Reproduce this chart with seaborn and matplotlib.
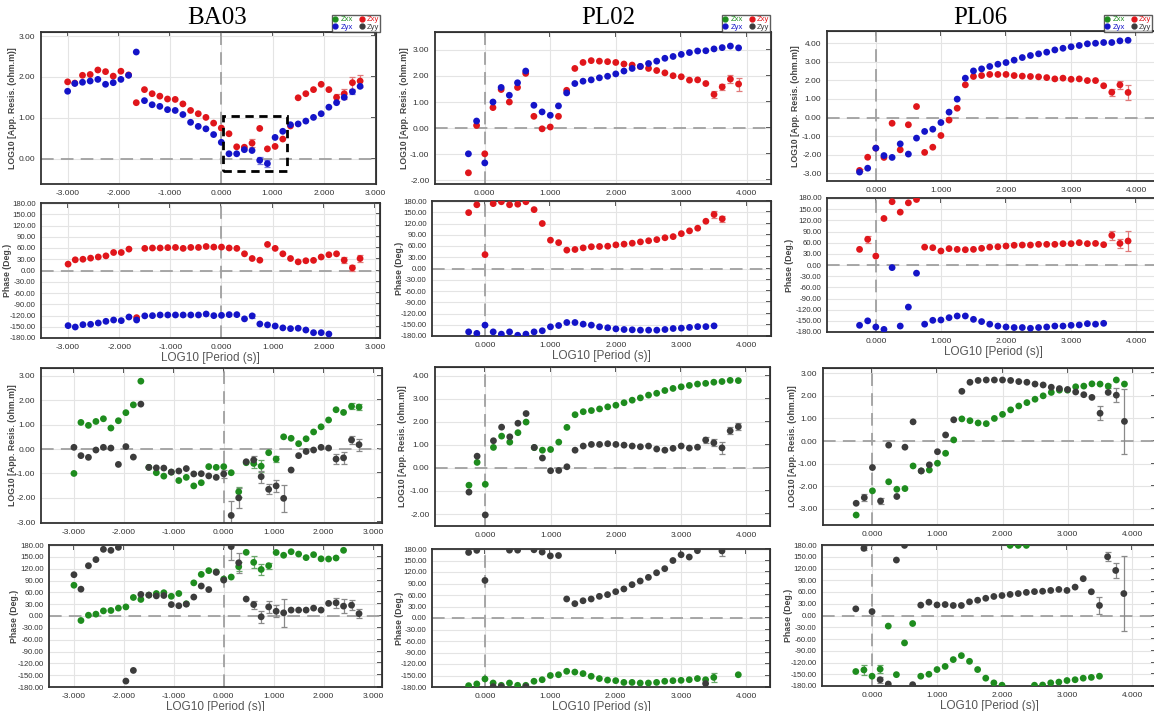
import numpy as np
import pandas as pd
import matplotlib
matplotlib.use('Agg')
import matplotlib.pyplot as plt
import seaborn as sns
from matplotlib.lines import Line2D
from matplotlib.patches import Rectangle
from matplotlib.ticker import FormatStrFormatter

nan = np.nan

# ---------------- data ----------------
stations = ["BA03", "PL02", "PL06"]
components = ["Zxx", "Zyx", "Zxy", "Zyy"]

ba03_period = [-3.00, -2.86, -2.71, -2.56, -2.41, -2.26, -2.11, -1.96, -1.81, -1.66,
               -1.50, -1.35, -1.20, -1.05, -0.90, -0.75, -0.60, -0.45, -0.30, -0.15,
               0.00, 0.15, 0.30, 0.45, 0.60, 0.75, 0.90, 1.05, 1.20, 1.35,
               1.50, 1.65, 1.80, 1.95, 2.10, 2.25, 2.40, 2.56, 2.71]
ba03_rho_xy = [1.88, 1.85, 2.04, 2.06, 2.17, 2.13, 2.02, 2.14, 2.05, 1.37,
               1.69, 1.59, 1.53, 1.46, 1.45, 1.34, 1.18, 1.10, 1.01, 0.87,
               0.75, 0.61, 0.29, 0.28, 0.38, 0.74, 0.24, 0.30, 0.48, 0.80,
               1.49, 1.59, 1.69, 1.82, 1.69, 1.50, 1.59, 1.86, 1.90]
ba03_rho_yx = [1.65, 1.84, 1.87, 1.90, 1.94, 1.82, 1.86, 1.94, 2.04, 2.61,
               1.42, 1.32, 1.28, 1.20, 1.18, 1.08, 0.89, 0.79, 0.73, 0.59,
               0.40, 0.12, 0.12, 0.22, 0.20, -0.04, -0.12, 0.52, 0.67, 0.83,
               0.85, 0.92, 1.01, 1.10, 1.26, 1.37, 1.50, 1.64, 1.77]
ba03_phi_xy = [17, 28.5, 30, 33, 36, 39, 48, 48, 57, -125.7,
               59, 60, 60, 61, 61.5, 59, 61.5, 61.5, 64, 62.5,
               62.5, 60, 59, 44.5, 32, 27.5, 69.5, 59, 44.5, 32,
               23, 26, 27, 36, 42, 44.5, 27.5, 7, 32]
ba03_phi_yx = [-147, -150.7, -144.4, -143.5, -140, -135.5, -132, -133.7, -124, -132,
               -121, -120.4, -118.6, -118.6, -118.6, -118.6, -118.6, -118.6, -116, -120.4,
               -119.5, -117.7, -117.7, -129, -121, -142.6, -145, -148, -153, -155,
               -154, -158.7, -165.8, -165.8, -169.4, nan, nan, nan, nan]
ba03_rho_xx = [-1.00, 1.09, 0.97, 1.13, 1.24, 0.86, 1.16, 1.49, 1.81, 2.78,
               -0.75, -0.97, -1.11, -0.95, -1.29, -1.16, -1.51, -1.38, -0.72, -0.75,
               -0.72, -0.97, -1.75, -0.56, -0.59, -0.70, -0.15, -0.41, 0.50, 0.44,
               0.22, 0.42, 0.70, 0.91, 1.19, 1.61, 1.50, 1.75, 1.72]
ba03_rho_yy = [0.07, -0.27, -0.34, -0.04, 0.07, 0.04, -0.63, 0.10, -0.33, 1.84,
               -0.75, -0.77, -0.78, -0.94, -0.90, -0.80, -1.02, -1.01, -1.10, -1.16,
               -1.02, -2.72, -2.00, -0.52, -0.45, -1.13, -1.65, -1.51, -2.02, -0.86,
               -0.27, -0.10, -0.04, 0.07, 0.04, -0.41, -0.36, 0.37, 0.18]
ba03_phi_xx = [78, -11.4, 2, 4.7, 13, 14, 20, 23, 47, 42,
               53, 57, 59, 50, 57, 31, 84, 105.5, 115, 112,
               93.6, 98.7, 125, 161.4, 136, 118, 127.5, 161, 154, 163,
               157, 148, 155.5, 145, 144.5, 147, 166.5, nan, nan]
ba03_phi_yy = [104.7, 68, 127.5, 143, 169, 166.5, 174, -165, -138, 54.7,
               53, 51, 52, 29, 26, 30, 48, 76, 67, 110.6,
               91, 176, 135, 43, 29, -2, 23, 12, 8, 15,
               15, 15, 20, 15, 32, 33.5, 25, 27.5, 6]
ba03_rho_xy_err = {24: 0.10, 35: 0.08, 36: 0.12, 37: 0.15, 38: 0.15}
ba03_rho_yx_err = {25: 0.08, 26: 0.08, 37: 0.05}
ba03_phi_xy_err = {36: 8, 37: 8, 38: 10}
ba03_phi_yx_err = {24: 5}
ba03_rho_xx_err = {22: 0.2, 24: 0.2, 25: 0.25, 27: 0.12, 37: 0.12, 38: 0.12}
ba03_rho_yy_err = {20: 0.15, 21: 0.6, 22: 0.4, 24: 0.15, 25: 0.25, 26: 0.2, 27: 0.25,
                   28: 0.55, 35: 0.2, 36: 0.25, 37: 0.15, 38: 0.25}
ba03_phi_xx_err = {22: 12, 24: 15, 25: 15, 26: 8}
ba03_phi_yy_err = {21: 35, 22: 25, 24: 10, 25: 15, 26: 15, 27: 15, 28: 35,
                   35: 12, 36: 18, 37: 12, 38: 12}

pl02_period = [-0.25, -0.125, 0.0, 0.125, 0.25, 0.375, 0.5, 0.625, 0.75, 0.875,
               1.0, 1.125, 1.25, 1.375, 1.5, 1.625, 1.75, 1.875, 2.0, 2.125,
               2.25, 2.375, 2.5, 2.625, 2.75, 2.875, 3.0, 3.125, 3.25, 3.375,
               3.5, 3.625, 3.75, 3.875]
pl02_rho_xy = [-1.72, 0.10, -0.99, 0.785, 1.48, 1.00, 1.56, 2.10, 0.45, -0.03,
               0.04, 0.45, 1.45, 2.29, 2.52, 2.59, 2.57, 2.55, 2.52, 2.46,
               2.42, 2.36, 2.29, 2.21, 2.12, 2.01, 1.97, 1.84, 1.85, 1.71,
               1.29, 1.58, 1.88, 1.69]
pl02_rho_yx = [-0.99, 0.27, -1.34, 1.00, 1.56, 1.26, 1.74, 2.19, 0.875, 0.62,
               0.49, 0.85, 1.35, 1.71, 1.80, 1.85, 1.93, 1.99, 2.08, 2.19,
               2.29, 2.37, 2.48, 2.57, 2.68, 2.75, 2.83, 2.90, 2.96, 2.97,
               3.04, 3.09, 3.15, 3.08]
pl02_phi_xy = [149, 170, 37, 173, 178, 170, 171.5, 178, 157, 120,
               75.5, 69, 49, 50.7, 55, 58, 58.7, 59.5, 63, 65,
               67.5, 71, 74, 77, 82, 85, 93, 100.4, 107.5, 126,
               144, 132.4, nan, nan]
pl02_phi_yx = [-169, -173, -151, -169, -175, -169, -178, -175, -169, -166,
               -155.5, -152, -144, -144, -148.4, -151, -155.5, -158, -161, -162.7,
               -163.5, -164.4, -164.4, -164.4, -162.7, -160, -159, -157, -155, -155,
               -153, nan, nan, nan]
pl02_rho_xx = [-0.75, 0.24, -0.71, 0.89, 1.38, 1.12, 1.53, 1.99, 0.88, 0.77,
               0.80, 1.12, 1.76, 2.31, 2.44, 2.49, 2.56, 2.65, 2.72, 2.83,
               2.94, 3.04, 3.16, 3.24, 3.36, 3.45, 3.52, 3.58, 3.64, 3.67,
               3.72, 3.75, 3.80, 3.79]
pl02_rho_yy = [-1.05, 0.51, -2.04, 1.18, 1.77, 1.35, 1.94, 2.36, 0.89, 0.43,
               -0.12, -0.11, 0.05, 0.77, 0.95, 1.02, 1.02, 1.05, 1.02, 0.99,
               0.95, 0.92, 0.95, 0.82, 0.77, 0.85, 0.95, 0.86, 0.90, 1.21,
               1.09, 0.87, 1.61, 1.79]
pl02_phi_xx = [-176.5, -172, -159, -169.6, -175.6, -169.6, -175.6, -175.6, -165, -161,
               -150, -148, -139, -141, -145, -152, -158, -162, -163.5, -168,
               -168, -169.6, -169.6, -168, -165, -163.5, -162.6, -161, -158, -161,
               -155, nan, nan, -148]
pl02_phi_yy = [171, 176.5, 98, -179, -179, 177, 177, -179, 178, 172,
               162, 163, 49.6, 37.4, 45, 49.6, 56.5, 61, 68.7, 75.7,
               87, 96.5, 106, 118, 128.7, 150, 165, 159, 175.6, -171,
               nan, 175, nan, nan]
pl02_rho_xy_err = {30: 0.12, 31: 0.12, 32: 0.15, 33: 0.25}
pl02_rho_yx_err = {}
pl02_phi_xy_err = {30: 10, 31: 8}
pl02_phi_yx_err = {}
pl02_rho_xx_err = {}
pl02_rho_yy_err = {29: 0.12, 30: 0.15, 31: 0.25, 32: 0.15, 33: 0.15}
pl02_phi_xx_err = {30: 12}
pl02_phi_yy_err = {31: 12}

pl06_period = [-0.25, -0.125, 0.0, 0.125, 0.25, 0.375, 0.5, 0.625, 0.75, 0.875,
               1.0, 1.125, 1.25, 1.375, 1.5, 1.625, 1.75, 1.875, 2.0, 2.125,
               2.25, 2.375, 2.5, 2.625, 2.75, 2.875, 3.0, 3.125, 3.25, 3.375,
               3.5, 3.625, 3.75, 3.875]
pl06_rho_xy = [-2.85, -2.14, -1.65, -2.15, -0.31, -1.74, -0.39, 0.59, -1.88, -1.60,
               -0.97, -0.14, 0.50, 1.76, 2.21, 2.26, 2.32, 2.32, 2.32, 2.26,
               2.23, 2.21, 2.19, 2.15, 2.08, 2.12, 2.06, 2.08, 1.99, 1.99,
               1.71, 1.36, 1.76, 1.35]
pl06_rho_yx = [-2.94, -2.73, -1.65, -2.05, -2.15, -1.42, -1.97, -1.11, -0.75, -0.63,
               -0.27, 0.29, 0.99, 2.12, 2.51, 2.62, 2.75, 2.87, 2.96, 3.09,
               3.23, 3.34, 3.43, 3.52, 3.64, 3.73, 3.81, 3.88, 3.97, 4.00,
               4.04, 4.04, 4.13, 4.16]
pl06_phi_xy = [42, 69, 24, 125, 170, 142, 167, 176, 48, 46.5,
               37.6, 44, 42, 41, 42, 44.8, 48, 49, 51, 53,
               53.7, 53.7, 55.5, 55.5, 55.5, 57.3, 57.3, 60, 57.3, 58,
               54.6, 79.7, 58, 64.5]
pl06_phi_yx = [-162, -150, -166.5, -173, -7, -164, -113, -22, -159, -148.6,
               -147.7, -141.5, -137, -137, -146, -152, -159, -164, -166.5, -168,
               -168, -170, -168, -166.5, -164, -164, -162, -161, -157.6, -159,
               -156.7, nan, nan, nan]
pl06_rho_xx = [-3.27, nan, -2.20, nan, -1.80, -2.13, -2.10, -1.10, -1.32, -1.28,
               -0.98, -0.54, 0.05, 0.98, 0.90, 0.80, 0.77, 1.00, 1.18, 1.38,
               1.55, 1.70, 1.85, 2.00, 2.15, 2.25, 2.25, 2.40, 2.43, 2.53,
               2.52, 2.43, 2.70, 2.52]
pl06_rho_yy = [-2.75, -2.50, -1.17, -2.65, -0.18, -2.45, -0.27, 0.85, -1.32, -1.05,
               -0.47, 0.27, 0.94, 2.20, 2.60, 2.68, 2.70, 2.70, 2.70, 2.68,
               2.63, 2.60, 2.52, 2.48, 2.38, 2.32, 2.28, 2.17, 2.05, 1.93,
               1.23, 2.15, 2.03, 0.87]
pl06_phi_xx = [-143, -139, -155, -137, -27, -151, -70, -20.5, -155, -150,
               -138, -130, -112.6, -102.4, -117, -138, -160, -172, -178, 179,
               179, 179, -178, -177.5, -172, -170, -166, -164, -160, -158,
               -155, nan, nan, nan]
pl06_phi_yy = [17, 171.5, 10, -164, -175, 141.6, 179, -176.6, 26.5, 34,
               27, 28, 25.6, 25.6, 35, 39, 44, 48.6, 51, 53.8,
               56, 59, 61, 62, 64, 66.5, 64, 72.5, 94, 60.6,
               25.6, 150, 115, 56]
pl06_rho_xy_err = {0: 0.05, 31: 0.2, 32: 0.2, 33: 0.4}
pl06_rho_yx_err = {}
pl06_phi_xy_err = {1: 10, 31: 12, 32: 12, 33: 28}
pl06_phi_yx_err = {}
pl06_rho_xx_err = {31: 0.1}
pl06_rho_yy_err = {1: 0.15, 3: 0.15, 30: 0.3, 32: 0.3, 33: 1.45}
pl06_phi_xx_err = {1: 12, 3: 10}
pl06_phi_yy_err = {1: 5, 3: 8, 30: 22, 31: 12, 32: 20, 33: 95}

# ---------------- style ----------------
c_xx, c_xy, c_yx, c_yy = "#1e8c1e", "#e0161b", "#1414c8", "#3c3c3c"
e_xx, e_xy, e_yx, e_yy = "#6aa86a", "#e07a7a", "#7a7ae0", "#8a8a8a"

sns.set_style("white")
plt.rcParams['font.family'] = ['Liberation Sans', 'DejaVu Sans']
plt.rcParams['axes.unicode_minus'] = False

W, H = 1154, 711
fig = plt.figure(figsize=(W / 100, H / 100), dpi=100)


def add_ax(l, t, r, b):
    return fig.add_axes([l / W, 1 - b / H, (r - l) / W, (b - t) / H])


def draw_panel(pos, period, series, xlim, ylim, xticks, yticks, kind, ylab_px):
    ax = add_ax(*pos)
    ax.set_facecolor('white')
    x = np.asarray(period, dtype=float)
    for y, err, col, ecol in series:
        y = np.asarray(y, dtype=float)
        if err:
            idx = np.array(sorted(err.keys()))
            ax.errorbar(x[idx], y[idx], yerr=[err[i] for i in idx], fmt='none',
                        ecolor=ecol, elinewidth=0.9, capsize=2.2, capthick=0.9, zorder=2)
        df = pd.DataFrame({"period": x, "value": y}).dropna()
        sns.scatterplot(data=df, x="period", y="value", ax=ax, color=col, s=24,
                        edgecolor='none', linewidth=0, zorder=3, legend=False)
    ax.axhline(0, color='#a0a0a0', ls=(0, (7, 4)), lw=1.3, zorder=1)
    ax.axvline(0, color='#a0a0a0', ls=(0, (7, 4)), lw=1.3, zorder=1)
    ax.set_xlim(*xlim)
    ax.set_ylim(*ylim)
    ax.set_xticks(xticks)
    ax.set_yticks(yticks)
    ax.xaxis.set_major_formatter(FormatStrFormatter('%.3f'))
    ax.yaxis.set_major_formatter(FormatStrFormatter('%.2f'))
    ax.grid(True, color='#e4e4e4', lw=0.8, zorder=0)
    ax.set_axisbelow(True)
    ax.tick_params(axis='both', labelsize=6, colors='#333333', length=2.5, width=0.8,
                   direction='out', pad=1.5)
    if kind == 'phi':
        ax.tick_params(axis='y', labelsize=5.6, pad=1.2)
    for sp in ax.spines.values():
        sp.set_color('#333333')
        sp.set_linewidth(1.3)
    sx = ax.secondary_xaxis('top')
    sx.set_xticks(xticks)
    sx.set_xticklabels([])
    sx.tick_params(direction='in', length=3.5, width=1.2, colors='#333333')
    sy = ax.secondary_yaxis('right')
    sy.set_yticks(yticks)
    sy.set_yticklabels([])
    sy.tick_params(direction='in', length=3.5, width=1.2, colors='#333333')
    if kind == 'rho':
        ax.set_ylabel("LOG10 [App. Resis. (ohm.m)]", fontsize=6.3, fontweight='bold',
                      color='#444444')
        ax.set_xlabel("")
    else:
        ax.set_ylabel("Phase (Deg.)", fontsize=6.3, fontweight='bold', color='#444444')
        ax.set_xlabel("LOG10 [Period (s)]", fontsize=8.5, color='#555555', labelpad=1)
    l, t, r, b = pos
    ax.yaxis.set_label_coords((ylab_px - l) / (r - l), 0.5)
    return ax


phase_ticks = list(range(-180, 181, 30))
c1_xt = [-3, -2, -1, 0, 1, 2, 3]
c23_xt = [0, 1, 2, 3, 4]

# ----- BA03 -----
a = draw_panel((41, 32, 376, 184), ba03_period,
               [(ba03_rho_xy, ba03_rho_xy_err, c_xy, e_xy), (ba03_rho_yx, ba03_rho_yx_err, c_yx, e_yx)],
               (-3.52, 3.02), (-0.62, 3.1), c1_xt, [0, 1, 2, 3], 'rho', 17)
a.add_patch(Rectangle((0.03, -0.31), 1.26, 1.35, fill=False, ec='black', lw=2,
                      ls=(0, (3, 2)), zorder=5))
draw_panel((41, 203, 380, 338), ba03_period,
           [(ba03_phi_xy, ba03_phi_xy_err, c_xy, e_xy), (ba03_phi_yx, ba03_phi_yx_err, c_yx, e_yx)],
           (-3.53, 3.1), (-180, 180), c1_xt, phase_ticks, 'phi', 12)
draw_panel((41, 368, 382, 523), ba03_period,
           [(ba03_rho_xx, ba03_rho_xx_err, c_xx, e_xx), (ba03_rho_yy, ba03_rho_yy_err, c_yy, e_yy)],
           (-3.66, 3.17), (-3.03, 3.32), c1_xt, [-3, -2, -1, 0, 1, 2, 3], 'rho', 17)
draw_panel((49, 545, 382, 687), ba03_period,
           [(ba03_phi_xx, ba03_phi_xx_err, c_xx, e_xx), (ba03_phi_yy, ba03_phi_yy_err, c_yy, e_yy)],
           (-3.5, 3.17), (-180, 180), c1_xt, phase_ticks, 'phi', 19)

# ----- PL02 -----
draw_panel((435, 32, 771, 184), pl02_period,
           [(pl02_rho_xy, pl02_rho_xy_err, c_xy, e_xy), (pl02_rho_yx, pl02_rho_yx_err, c_yx, e_yx)],
           (-0.76, 4.37), (-2.15, 3.69), c23_xt, [-2, -1, 0, 1, 2, 3], 'rho', 409)
draw_panel((432, 201, 771, 336), pl02_period,
           [(pl02_phi_xy, pl02_phi_xy_err, c_xy, e_xy), (pl02_phi_yx, pl02_phi_yx_err, c_yx, e_yx)],
           (-0.81, 4.37), (-180, 180), c23_xt, phase_ticks, 'phi', 404)
draw_panel((435, 367, 770, 526), pl02_period,
           [(pl02_rho_xx, pl02_rho_xx_err, c_xx, e_xx), (pl02_rho_yy, pl02_rho_yy_err, c_yy, e_yy)],
           (-0.77, 4.36), (-2.52, 4.38), c23_xt, [-2, -1, 0, 1, 2, 3, 4], 'rho', 407)
draw_panel((432, 549, 770, 687), pl02_period,
           [(pl02_phi_xx, pl02_phi_xx_err, c_xx, e_xx), (pl02_phi_yy, pl02_phi_yy_err, c_yy, e_yy)],
           (-0.81, 4.36), (-180, 180), c23_xt, phase_ticks, 'phi', 404)

# ----- PL06 -----
draw_panel((827, 31, 1159, 181), pl06_period,
           [(pl06_rho_xy, pl06_rho_xy_err, c_xy, e_xy), (pl06_rho_yx, pl06_rho_yx_err, c_yx, e_yx)],
           (-0.75, 4.35), (-3.42, 4.66), c23_xt, [-3, -2, -1, 0, 1, 2, 3, 4], 'rho', 800)
draw_panel((827, 198, 1159, 332), pl06_period,
           [(pl06_phi_xy, pl06_phi_xy_err, c_xy, e_xy), (pl06_phi_yx, pl06_phi_yx_err, c_yx, e_yx)],
           (-0.75, 4.35), (-180, 180), c23_xt, phase_ticks, 'phi', 794)
draw_panel((823, 368, 1156, 525), pl06_period,
           [(pl06_rho_xx, pl06_rho_xx_err, c_xx, e_xx), (pl06_rho_yy, pl06_rho_yy_err, c_yy, e_yy)],
           (-0.76, 4.36), (-3.71, 3.23), c23_xt, [-3, -2, -1, 0, 1, 2, 3], 'rho', 797)
draw_panel((822, 545, 1156, 686), pl06_period,
           [(pl06_phi_xx, pl06_phi_xx_err, c_xx, e_xx), (pl06_phi_yy, pl06_phi_yy_err, c_yy, e_yy)],
           (-0.77, 4.37), (-180, 180), c23_xt, phase_ticks, 'phi', 793)

# ----- titles -----
for name, xc in zip(stations, [217, 608, 980]):
    fig.text(xc / W, 1 - 18 / H, name, ha='center', va='center', fontsize=18,
             family=['Liberation Serif', 'DejaVu Serif'], color='black')

# ----- legends -----
comp_colors = {"Zxx": c_xx, "Zyx": c_yx, "Zxy": c_xy, "Zyy": c_yy}
for xr in [380, 770, 1152]:
    handles = [Line2D([], [], marker='o', ls='none', color=comp_colors[c], markersize=3.5)
               for c in components]
    leg = fig.legend(handles, components, ncol=2, loc='upper right',
                     bbox_to_anchor=(xr / W, 1 - 15 / H), fontsize=5.5, frameon=True,
                     handlelength=0.7, handletextpad=0.3, columnspacing=0.8,
                     borderpad=0.15, labelspacing=0.0, borderaxespad=0.0, fancybox=False)
    leg.get_frame().set_edgecolor('#333333')
    leg.get_frame().set_linewidth(1.0)
    for txt, c in zip(leg.get_texts(), components):
        txt.set_color(comp_colors[c])

fig.savefig("out.png", dpi=100)
